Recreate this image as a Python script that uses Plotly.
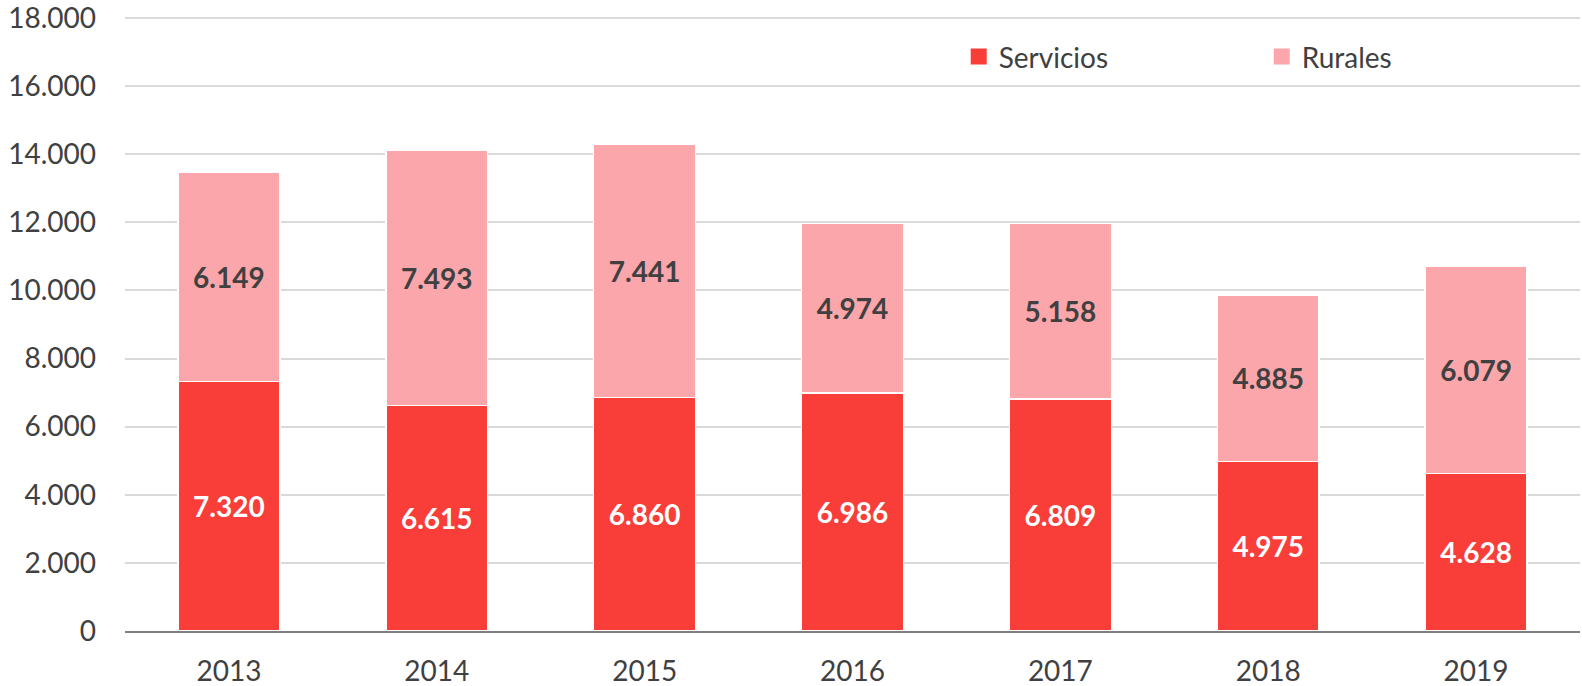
import plotly.graph_objects as go

# Annual totals split into two categories
years = ["2013", "2014", "2015", "2016", "2017", "2018", "2019"]
servicios = [7320, 6615, 6860, 6986, 6809, 4975, 4628]
rurales = [6149, 7493, 7441, 4974, 5158, 4885, 6079]

y_ticks = [0, 2000, 4000, 6000, 8000, 10000, 12000, 14000, 16000, 18000]
y_tick_text = ["0", "2.000", "4.000", "6.000", "8.000", "10.000", "12.000", "14.000", "16.000", "18.000"]

RED = "#F93D38"
PINK = "#FBA6AB"
TEXT = "#404040"
FONT = "Lato, 'Open Sans', sans-serif"


def fmt(v):
    return f"{v:,}".replace(",", ".")


fig = go.Figure()

fig.add_trace(go.Bar(
    x=years, y=servicios, name="Servicios",
    marker=dict(color=RED, line=dict(color="white", width=1.5)),
    text=[fmt(v) for v in servicios],
    textposition="inside", insidetextanchor="middle", textangle=0,
    constraintext="none",
    textfont=dict(family=FONT, size=28, color="white", weight="bold"),
    showlegend=False, hoverinfo="skip",
))
fig.add_trace(go.Bar(
    x=years, y=rurales, name="Rurales",
    marker=dict(color=PINK, line=dict(color="white", width=1.5)),
    text=[fmt(v) for v in rurales],
    textposition="inside", insidetextanchor="middle", textangle=0,
    constraintext="none",
    textfont=dict(family=FONT, size=28, color=TEXT, weight="bold"),
    showlegend=False, hoverinfo="skip",
))

# Legend entries with square swatches
for name, color in [("Servicios", RED), ("Rurales", PINK)]:
    fig.add_trace(go.Scatter(
        x=[None], y=[None], mode="markers", name=name,
        marker=dict(symbol="square", size=16, color=color),
        showlegend=True,
    ))

fig.update_layout(
    width=1582, height=686,
    margin=dict(l=125, r=2, t=17, b=55, autoexpand=False),
    paper_bgcolor="white", plot_bgcolor="white",
    barmode="stack", bargap=0.51,
    font=dict(family=FONT, size=28, color=TEXT),
    showlegend=True,
    legend=dict(
        orientation="h", traceorder="normal",
        x=0.573, xanchor="left", y=0.935, yanchor="middle",
        entrywidth=258, entrywidthmode="pixels",
        font=dict(family=FONT, size=28, color=TEXT),
        bgcolor="rgba(0,0,0,0)", itemclick=False,
    ),
)

fig.update_xaxes(
    type="category", showgrid=False, showline=True, linecolor="#7F7F7F", linewidth=1.5,
    ticks="", tickfont=dict(family=FONT, size=28, color=TEXT), ticklabelstandoff=15,
    automargin=False,
)
# small headroom above 18.000 so its gridline is kept inside the plot area
fig.update_yaxes(
    range=[0, 18030], tickvals=y_ticks, ticktext=y_tick_text,
    showgrid=True, gridcolor="#D9D9D9", gridwidth=1.5,
    zeroline=False, showline=False, ticks="",
    tickfont=dict(family=FONT, size=28, color=TEXT), ticklabelstandoff=28,
    ticklabeloverflow="allow", automargin=False,
)

fig.write_html("out.html")
